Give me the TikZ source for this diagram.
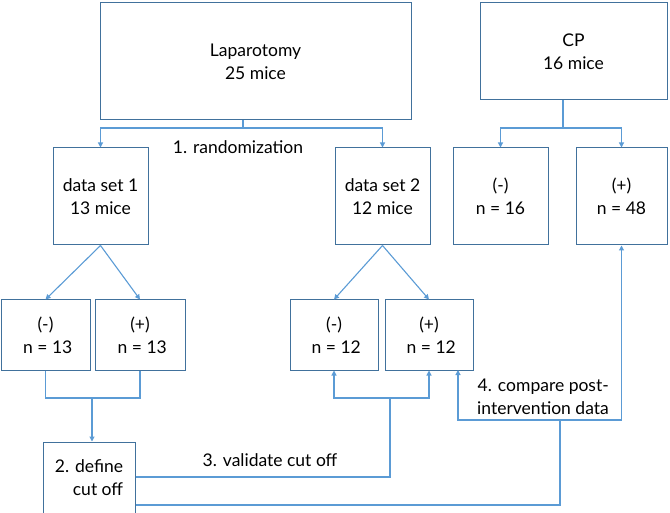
\documentclass[tikz,border=0pt]{standalone}
\usepackage{fontspec}
\setmainfont{Lato}
\usetikzlibrary{arrows.meta}
\definecolor{boxblue}{RGB}{65,113,156}
\definecolor{lineblue}{RGB}{91,155,213}

\begin{document}
\begin{tikzpicture}[x=1pt,y=-1pt,line width=1.0pt,
    box/.style={draw=boxblue,align=center,inner sep=0pt,font=\fontsize{17.5}{23}\selectfont},
    link/.style={draw=lineblue,line width=1.1pt},
    arr/.style={link,-{Triangle[width=5pt,length=5pt]}},
    lbl/.style={font=\fontsize{17.5}{23}\selectfont,align=left}]
      \useasboundingbox (0,0) rectangle (670,513);
      \node [box,minimum width=311pt,minimum height=117pt] (lap) at (255.5,61.5) {Laparotomy\\25 mice};
      \node [box,minimum width=187pt,minimum height=97pt] (cp) at (573.5,51.5) {CP\\16 mice};

      \node [box,minimum width=95pt,minimum height=97pt] (ds1) at (100.5,196.5) {data set 1\\ 13 mice};
      \node [box,minimum width=95pt,minimum height=97pt] (ds2) at (382.5,196.5) {data set 2\\ 12 mice};
      \node [box,minimum width=95pt,minimum height=97pt] (cpm) at (500.5,196.5) {(-)\\n = 16};
      \node [box,minimum width=91pt,minimum height=97pt] (cpp) at (621.5,196.5) {(+)\\n = 48};

      \node [box,minimum width=89pt,minimum height=70pt] (m1) at (45.5,335) {(-)\\ \ n = 13};
      \node [box,minimum width=90pt,minimum height=70pt] (p1) at (140,335) {(+)\\ \ n = 13};
      \node [box,minimum width=88pt,minimum height=70pt] (m2) at (334,335) {(-)\\ \ n = 12};
      \node [box,minimum width=88pt,minimum height=70pt] (p2) at (429,335) {(+)\\ \ n = 12};

      \node [box,minimum width=92pt,minimum height=71pt,align=right] (cut) at (89,477.5) {2. define\\cut off};

      \coordinate (r1) at (243,128);
      \coordinate (r2) at (563,128);
      \coordinate (j1) at (92,398);
      \coordinate (j2) at (390,398);
      \coordinate (j3) at (560,420);

      % randomization
      \draw [link] (lap.south -| r1) -- (r1);
      \draw [arr] (r1) -| (ds1.north);
      \draw [arr] (r1) -| (ds2.north);
      \draw [link] (cp.south -| r2) -- (r2);
      \draw [arr] (r2) -| (cpm.north);
      \draw [arr] (r2) -| (cpp.north);

      \draw [arr] (ds1.south) -- (m1.north);
      \draw [arr] (ds1.south) -- (p1.north);
      \draw [arr] (ds2.south) -- (m2.north);
      \draw [arr] (ds2.south) -- (p2.north);

      % define cut off
      \draw [link] (m1.south) |- (j1);
      \draw [link] (p1.south) |- (j1);
      \draw [arr] (j1) -- (j1 |- cut.north);

      % validate
      \draw [link] (cut.east |- 0,477) -| (j2);
      \draw [arr] (j2) -| (m2.south);
      \draw [arr] (j2) -| (p2.south);

      % compare
      \draw [link] (cut.east |- 0,505) -| (j3);
      \draw [arr] (j3) -| (458,370);
      \draw [arr] (j3) -| (cpp.south);

      \node [lbl] (l1) at (238,147) {1. randomization};
      \node [lbl] (l3) at (270,460) {3. validate cut off};
      \node [lbl,align=right] (l4) at (543,397) {4. compare post-\\intervention data};
\end{tikzpicture}
\end{document}
